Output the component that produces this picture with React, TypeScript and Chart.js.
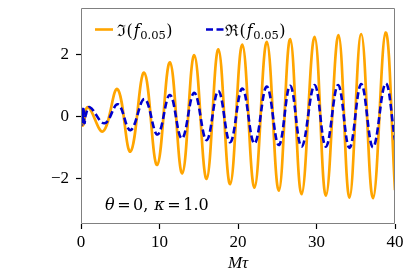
import React, { useEffect, useRef } from "react";
import { Chart, registerables } from "chart.js";

Chart.register(...registerables);

// Im(f_0.05): extrema (time, value)
const imT = [0, 0.25, 0.9, 2.8, 4.64, 6.3, 8.05, 9.7, 11.33, 12.9, 14.43, 16.0, 17.5, 19.0, 20.55, 22.1, 23.67, 25.2, 26.65, 28.1, 29.76, 31.2, 32.8, 34.2, 35.7, 37.2, 38.8, 40];
const imV = [0.05, -0.28, 0.31, -0.47, 0.89, -1.12, 1.42, -1.55, 1.75, -1.82, 1.98, -2.0, 2.17, -2.17, 2.32, -2.28, 2.41, -2.38, 2.5, -2.49, 2.57, -2.54, 2.63, -2.6, 2.66, -2.62, 2.71, -2.36];

// Re(f_0.05)
const reT = [0, 0.15, 0.3, 0.45, 0.6, 1.1, 3.0, 4.7, 6.3, 8.1, 9.75, 11.33, 12.85, 14.43, 16.0, 17.5, 19.0, 20.55, 22.1, 23.67, 25.2, 26.65, 28.1, 29.76, 31.2, 32.75, 34.2, 35.7, 37.2, 38.8, 40];
const reV = [0.3, -0.25, 0.25, -0.2, 0.05, 0.31, -0.21, 0.4, -0.43, 0.57, -0.57, 0.7, -0.7, 0.77, -0.75, 0.83, -0.82, 0.91, -0.86, 0.97, -0.91, 1.0, -0.96, 1.02, -0.96, 1.02, -1.0, 1.05, -0.98, 1.07, -0.75];

const xTicks = [0, 10, 20, 30, 40];
const yTicks = [-2, 0, 2];

const xTitle = "Mτ";
const imLabel = ["ℑ", "(", "f", "0.05", ")"];
const reLabel = ["ℜ", "(", "f", "0.05", ")"];
const annoParts = [
  { t: "θ", it: true },
  { t: "=", it: false },
  { t: "0,", it: false },
  { t: "κ", it: true },
  { t: "=", it: false },
  { t: "1.0", it: false },
];

const ORANGE = "#ffa500";
const BLUE = "#0000cd";
const FAMILY = "'Liberation Serif', 'DejaVu Serif', serif";
const MFAMILY = "'DejaVu Serif', serif";

function drawMathLabel(ctx: CanvasRenderingContext2D, x: number, y: number, lab: string[]) {
  ctx.textBaseline = "alphabetic";
  ctx.textAlign = "left";
  ctx.fillStyle = "#000";
  const fonts = [`16px ${MFAMILY}`, `16px ${MFAMILY}`, `italic 16px ${MFAMILY}`, `11.5px ${MFAMILY}`, `16px ${MFAMILY}`];
  const extra = [0.5, 1, 0.5, 0.5, 0];
  const dy = [0, 0, 0, 3.5, 0];
  lab.forEach((s, i) => {
    ctx.font = fonts[i];
    ctx.fillText(s, x, y + dy[i]);
    x += ctx.measureText(s).width + extra[i];
  });
}

const decor = {
  id: "decor",
  afterDatasetsDraw(chart: any) {
    const ctx: CanvasRenderingContext2D = chart.ctx;
    const a = chart.chartArea;
    ctx.save();
    // spines
    ctx.lineWidth = 1;
    ctx.strokeStyle = "#808080";
    ctx.beginPath();
    ctx.moveTo(Math.round(a.left) + 0.5, Math.round(a.top) + 0.5);
    ctx.lineTo(Math.round(a.right) - 0.5, Math.round(a.top) + 0.5);
    ctx.lineTo(Math.round(a.right) - 0.5, Math.round(a.bottom) - 0.5);
    ctx.lineTo(Math.round(a.left) + 0.5, Math.round(a.bottom) - 0.5);
    ctx.closePath();
    ctx.stroke();

    // legend
    const ly = 29.5;
    ctx.lineWidth = 2.6;
    ctx.strokeStyle = ORANGE;
    ctx.setLineDash([]);
    ctx.beginPath();
    ctx.moveTo(95, ly);
    ctx.lineTo(113, ly);
    ctx.stroke();
    drawMathLabel(ctx, 117, 35.5, imLabel);

    ctx.strokeStyle = BLUE;
    ctx.setLineDash([7, 3.5]);
    ctx.beginPath();
    ctx.moveTo(206, ly);
    ctx.lineTo(223.5, ly);
    ctx.stroke();
    ctx.setLineDash([]);
    drawMathLabel(ctx, 225, 35.5, reLabel);

    // annotation
    const y = 209.5;
    let x = 105;
    const gaps = [2.5, 2.5, 6, 2.5, 2.5];
    ctx.fillStyle = "#000";
    ctx.textBaseline = "alphabetic";
    annoParts.forEach((p, i) => {
      ctx.font = `${p.it ? "italic " : ""}16px ${MFAMILY}`;
      ctx.fillText(p.t, x, y);
      x += ctx.measureText(p.t).width + (i < gaps.length ? gaps[i] : 0);
    });
    ctx.restore();
  },
};

export default function App() {
  const ref = useRef<HTMLCanvasElement>(null);
  useEffect(() => {
    document.body.style.margin = "0";
    const tickFmt = (v: any) => (Number(v) < 0 ? "\u2212" + Math.abs(Number(v)) : String(v));
    const chart = new Chart(ref.current as HTMLCanvasElement, {
      type: "line",
      data: {
        datasets: [
          {
            label: "Re",
            data: reT.map((t, i) => ({ x: t, y: reV[i] })),
            borderColor: BLUE,
            borderWidth: 2.6,
            borderDash: [7, 3.5],
            pointRadius: 0,
            tension: 0.4,
            fill: false,
            order: 0,
          },
          {
            label: "Im",
            data: imT.map((t, i) => ({ x: t, y: imV[i] })),
            borderColor: ORANGE,
            borderWidth: 2.7,
            pointRadius: 0,
            tension: 0.4,
            fill: false,
            order: 1,
          },
        ],
      },
      options: {
        animation: false,
        responsive: false,
        devicePixelRatio: 1,
        layout: { padding: { left: 0, right: 12, top: 8, bottom: 0 } },
        plugins: { legend: { display: false }, tooltip: { enabled: false } },
        scales: {
          x: {
            type: "linear",
            min: 0,
            max: 40,
            afterBuildTicks: (s: any) => {
              s.ticks = xTicks.map((v) => ({ value: v }));
            },
            afterFit: (s: any) => {
              s.height = 56;
              s.paddingLeft = 0;
              s.paddingRight = 0;
            },
            grid: { display: true, drawOnChartArea: false, drawTicks: true, tickLength: 5, tickColor: "#000", tickWidth: 1.2 },
            border: { display: false },
            ticks: { font: { family: FAMILY, size: 17 }, color: "#000", padding: 3, maxRotation: 0, callback: tickFmt },
            title: { display: true, text: xTitle, color: "#000", font: { family: FAMILY, size: 17, style: "italic" }, padding: { top: 0, bottom: 6 } },
          },
          y: {
            type: "linear",
            min: -3.45,
            max: 3.5,
            afterBuildTicks: (s: any) => {
              s.ticks = yTicks.map((v) => ({ value: v }));
            },
            afterFit: (s: any) => {
              s.width = 81;
              s.paddingTop = 0;
              s.paddingBottom = 0;
            },
            grid: { display: true, drawOnChartArea: false, drawTicks: true, tickLength: 5, tickColor: "#000", tickWidth: 1.2 },
            border: { display: false },
            ticks: { font: { family: FAMILY, size: 17 }, color: "#000", padding: 7, callback: tickFmt },
          },
        },
      },
      plugins: [decor],
    } as any);
    return () => chart.destroy();
  }, []);
  return <canvas ref={ref} width={407} height={280} style={{ display: "block" }} />;
}
